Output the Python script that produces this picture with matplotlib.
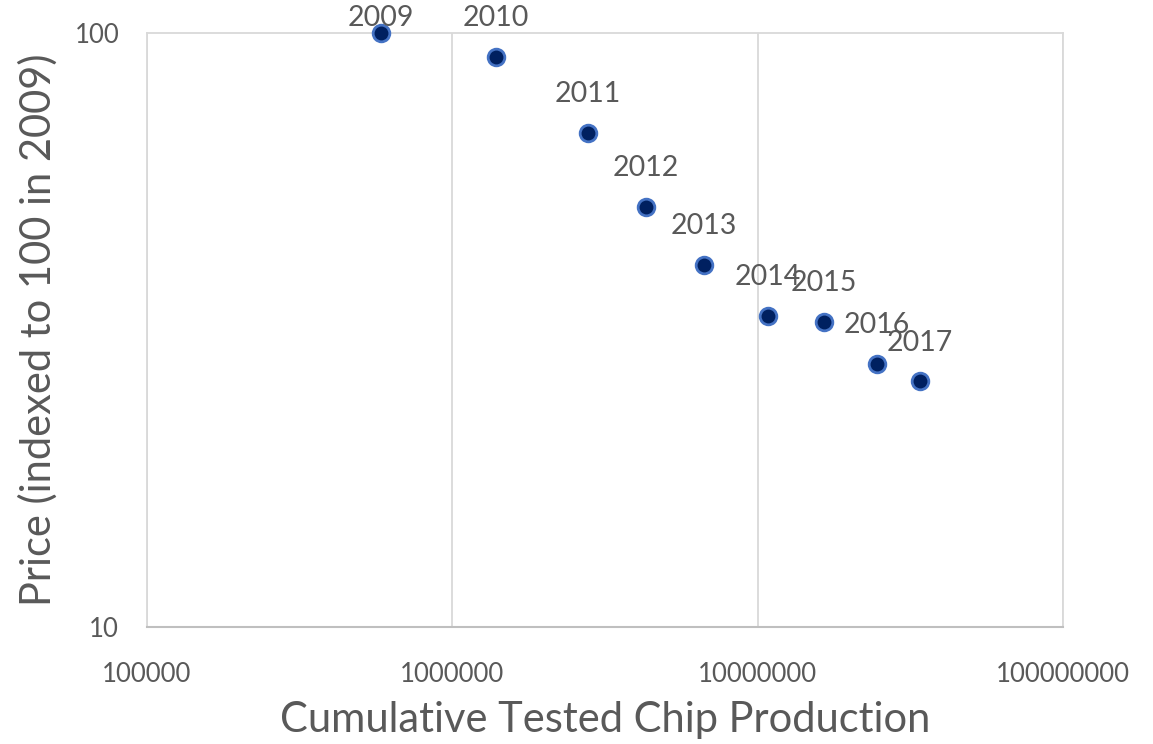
#!/usr/bin/env python3
# -*- coding: utf-8 -*-

import matplotlib
matplotlib.use('Agg')
import matplotlib.pyplot as plt
from matplotlib.ticker import FixedLocator, NullLocator, FuncFormatter

years = ['2009', '2010', '2011', '2012', '2013', '2014', '2015', '2016', '2017']
cumulative_production = [5.84e5, 1.39e6, 2.78e6, 4.31e6, 6.67e6,
                         1.08e7, 1.65e7, 2.46e7, 3.40e7]
price_index = [100, 91.1, 67.9, 50.9, 40.7, 33.4, 32.6, 27.7, 25.9]

x_ticks = [1e5, 1e6, 1e7, 1e8]
y_ticks = [10, 100]

TEXT = '#595959'
GRID = '#d9d9d9'


def main():
    plt.rcParams['font.family'] = ['Lato', 'DejaVu Sans']

    fig = plt.figure(figsize=(11.53, 7.44), dpi=100)
    ax = fig.add_axes([0.1275, 0.1573, 0.7945, 0.7983])

    ax.set_xscale('log')
    ax.set_yscale('log')
    ax.set_xlim(x_ticks[0], x_ticks[-1])
    ax.set_ylim(y_ticks[0], y_ticks[-1])

    ax.xaxis.set_major_locator(FixedLocator(x_ticks))
    ax.yaxis.set_major_locator(FixedLocator(y_ticks))
    ax.xaxis.set_minor_locator(NullLocator())
    ax.yaxis.set_minor_locator(NullLocator())
    ax.xaxis.set_major_formatter(FuncFormatter(lambda v, _: '%d' % round(v)))
    ax.yaxis.set_major_formatter(FuncFormatter(lambda v, _: '%d' % round(v)))

    ax.tick_params(axis='x', length=0, pad=25, labelsize=18.5, labelcolor=TEXT)
    ax.tick_params(axis='y', length=0, pad=20, labelsize=18.5, labelcolor=TEXT)

    ax.grid(True, axis='x', color=GRID, lw=1.3)
    for side in ['top', 'right', 'left']:
        ax.spines[side].set_color(GRID)
        ax.spines[side].set_linewidth(1.3)
    ax.spines['bottom'].set_color('#bfbfbf')
    ax.spines['bottom'].set_linewidth(1.5)

    ax.plot(cumulative_production, price_index, ls='none', marker='o',
            ms=12, mfc='#002060', mec='#4472c4', mew=2, clip_on=False,
            zorder=3)

    for i, (x, y, label) in enumerate(zip(cumulative_production, price_index, years)):
        dy = 11 if i == 0 else 28
        ax.annotate(label, (x, y), xytext=(0, dy), textcoords='offset points',
                    ha='center', va='center', fontsize=20.5, color=TEXT,
                    annotation_clip=False, zorder=4)

    ax.set_xlabel('Cumulative Tested Chip Production', fontsize=30,
                  color=TEXT, labelpad=10)
    ax.set_ylabel('Price (indexed to 100 in 2009)', fontsize=30,
                  color=TEXT, labelpad=12)

    plt.savefig('out.png', dpi=100)
    plt.close()


if __name__ == '__main__':
    main()
